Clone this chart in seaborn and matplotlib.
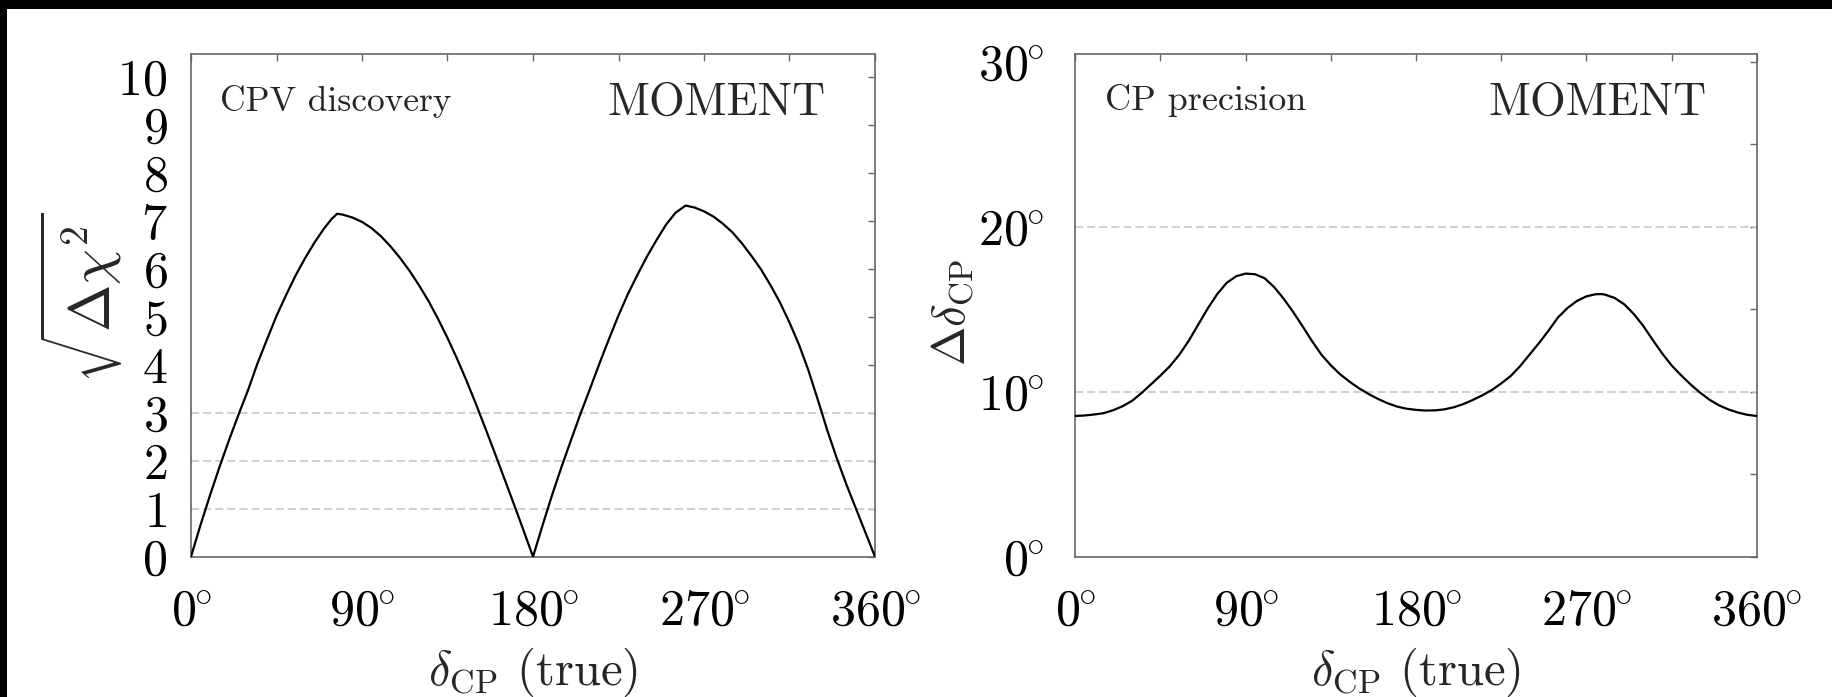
import matplotlib
matplotlib.use("Agg")
import matplotlib.pyplot as plt
import seaborn as sns
from matplotlib.ticker import FixedLocator
from matplotlib.patches import Rectangle

# ---------------- data ----------------
cpv_deg = [0, 5, 10, 15, 20, 25, 30, 35, 40, 45, 50, 55, 60, 65, 70, 74, 76.9,
           80, 85, 90, 95, 100, 105, 110, 115, 120, 125, 130, 135, 140, 145, 150,
           155, 160, 165, 170, 175, 180,
           185, 190, 195, 200, 205, 210, 215, 220, 225, 230, 235, 240, 245, 250,
           255, 260.3, 265, 270, 275, 280, 285, 290, 295, 300, 305, 310, 315, 320,
           325, 330, 335, 340, 345, 350, 355, 360]
cpv_sqrt_chi2 = [0, 0.66, 1.28, 1.87, 2.43, 2.96, 3.47, 4.03, 4.53, 5.02, 5.45, 5.86, 6.22,
                 6.55, 6.84, 7.04, 7.15,
                 7.13, 7.07, 6.98, 6.85, 6.68, 6.47, 6.23, 5.96, 5.66, 5.33, 4.96, 4.56,
                 4.13, 3.67, 3.18, 2.67, 2.15, 1.62, 1.09, 0.55, 0.0,
                 0.65, 1.28, 1.87, 2.43, 2.98, 3.5, 4.03, 4.54, 5.03, 5.48, 5.88, 6.26,
                 6.6, 6.92, 7.17, 7.32, 7.28, 7.2, 7.09, 6.94, 6.76, 6.53, 6.27, 5.99,
                 5.66, 5.3, 4.88, 4.42, 3.88, 3.26, 2.62, 2.04, 1.5, 1.0, 0.5, 0.0]

prec_deg = [0, 5, 10, 15, 20, 25, 30, 35, 40, 45, 50, 55, 60, 65, 70, 75, 80, 85, 90,
            95, 100, 105, 110, 115, 120, 125, 130, 135, 140, 145, 150, 155, 160, 165,
            170, 175, 180, 185, 190, 195, 200, 205, 210, 215, 220, 225, 230, 235, 240,
            245, 250, 255, 260, 265, 270, 275, 278, 280, 285, 290, 295, 300, 305, 310,
            315, 320, 325, 330, 335, 340, 345, 350, 355, 360]
prec_delta = [8.53, 8.56, 8.62, 8.7, 8.88, 9.12, 9.45, 9.92, 10.45, 10.98, 11.55, 12.25,
              13.1, 14.08, 15.05, 15.92, 16.6, 17.0, 17.16, 17.12, 16.88, 16.35, 15.65,
              14.85, 13.98, 13.08, 12.25, 11.6, 11.05, 10.6, 10.2, 9.86, 9.56, 9.3, 9.1,
              8.97, 8.9, 8.86, 8.87, 8.93, 9.06, 9.25, 9.5, 9.78, 10.1, 10.5, 10.95,
              11.55, 12.25, 12.95, 13.7, 14.5, 15.07, 15.5, 15.78, 15.91, 15.92, 15.88,
              15.68, 15.3, 14.72, 14.0, 13.15, 12.33, 11.6, 11.0, 10.45, 9.95, 9.52,
              9.18, 8.93, 8.74, 8.6, 8.53]

x_tick_vals = [0, 90, 180, 270, 360]
x_tick_labels = [r"$0^{\!\!\circ}$", r"$90^{\!\!\circ}$", r"$180^{\!\!\circ}$",
                 r"$270^{\!\!\circ}$", r"$360^{\!\!\circ}$"]
x_minor_vals = [45, 135, 225, 315]
left_ytick_vals = list(range(0, 11))
left_ytick_labels = [f"${v}$" for v in left_ytick_vals]
right_ytick_vals = [0, 10, 20, 30]
right_ytick_labels = [r"$0^{\!\!\circ}$", r"$10^{\!\!\circ}$", r"$20^{\!\!\circ}$",
                      r"$30^{\!\!\circ}$"]
right_minor_vals = [5, 15, 25]
left_ref_lines = [1, 2, 3]
right_ref_lines = [10, 20]

# ---------------- style ----------------
sns.set_theme(style="white")
plt.rcParams["mathtext.fontset"] = "cm"
plt.rcParams["font.family"] = ["cmr10", "DejaVu Serif"]
plt.rcParams["axes.formatter.use_mathtext"] = True
plt.rcParams["axes.unicode_minus"] = False

W, H = 1832, 697
fig = plt.figure(figsize=(W / 100, H / 100), dpi=100)
fig.patch.set_facecolor("white")

ax_bottom = (H - 556.7) / H
ax_height = (556.7 - 54) / H
ax1 = fig.add_axes([191 / W, ax_bottom, 684 / W, ax_height])
ax2 = fig.add_axes([1075.3 / W, ax_bottom, 681.4 / W, ax_height])

spine_col = "#666666"
for ax in (ax1, ax2):
    ax.set_facecolor("white")
    for s in ax.spines.values():
        s.set_color(spine_col)
        s.set_linewidth(1.2)
        s.set_visible(True)
    ax.tick_params(which="both", direction="in", top=True, right=True,
                   length=4.8, width=1.0, color=spine_col, labelcolor="black",
                   labelsize=36)
    ax.tick_params(axis="x", which="both", pad=23)
    ax.set_xlim(0, 360)
    ax.set_xticks(x_tick_vals, x_tick_labels)
    ax.xaxis.set_minor_locator(FixedLocator(x_minor_vals))
    ax.set_xlabel(r"$\delta_{\rm CP}$ (true)", fontsize=35)
    ax.xaxis.set_label_coords(0.5, -0.178)
ax1.tick_params(axis="y", which="both", pad=17)
ax2.tick_params(axis="y", which="both", pad=22.5)

# left panel
for y in left_ref_lines:
    ax1.axhline(y, color="#cccccc", lw=1.3, dashes=(4.5, 2.2), zorder=1)
sns.lineplot(x=cpv_deg, y=cpv_sqrt_chi2, ax=ax1, color="black", linewidth=1.6,
             estimator=None, sort=False, zorder=3)
ax1.set_ylim(0, 10.48)
ax1.set_yticks(left_ytick_vals, left_ytick_labels)
ax1.set_ylabel(r"$\sqrt{\Delta\chi^2}$", fontsize=41)
ax1.yaxis.set_label_coords(-0.097, 0.515)
ax1.text(0.0425, 0.8866, "CPV discovery", transform=ax1.transAxes, fontsize=25.5,
         va="baseline", ha="left")
ax1.text(0.927, 0.8787, "MOMENT", transform=ax1.transAxes, fontsize=33,
         va="baseline", ha="right")

# right panel
for y in right_ref_lines:
    ax2.axhline(y, color="#cccccc", lw=1.3, dashes=(4.5, 2.2), zorder=1)
sns.lineplot(x=prec_deg, y=prec_delta, ax=ax2, color="black", linewidth=1.6,
             estimator=None, sort=False, zorder=3)
ax2.set_ylim(0, 30.47)
ax2.set_yticks(right_ytick_vals, right_ytick_labels)
ax2.yaxis.set_minor_locator(FixedLocator(right_minor_vals))
ax2.set_ylabel(r"$\Delta\delta_{\rm CP}$", fontsize=34)
ax2.yaxis.set_label_coords(-0.147, 0.485)
ax2.text(0.0436, 0.8886, "CP precision", transform=ax2.transAxes, fontsize=26,
         va="baseline", ha="left")
ax2.text(0.927, 0.8787, "MOMENT", transform=ax2.transAxes, fontsize=33,
         va="baseline", ha="right")

# black frame strips (top and left) seen in the reference
fig.add_artist(Rectangle((0, 1 - 9 / H), 1, 9 / H, transform=fig.transFigure,
                         facecolor="black", edgecolor="none", zorder=10))
fig.add_artist(Rectangle((0, 0), 7 / W, 1, transform=fig.transFigure,
                         facecolor="black", edgecolor="none", zorder=10))

fig.savefig("out.png", dpi=100, facecolor="white")
